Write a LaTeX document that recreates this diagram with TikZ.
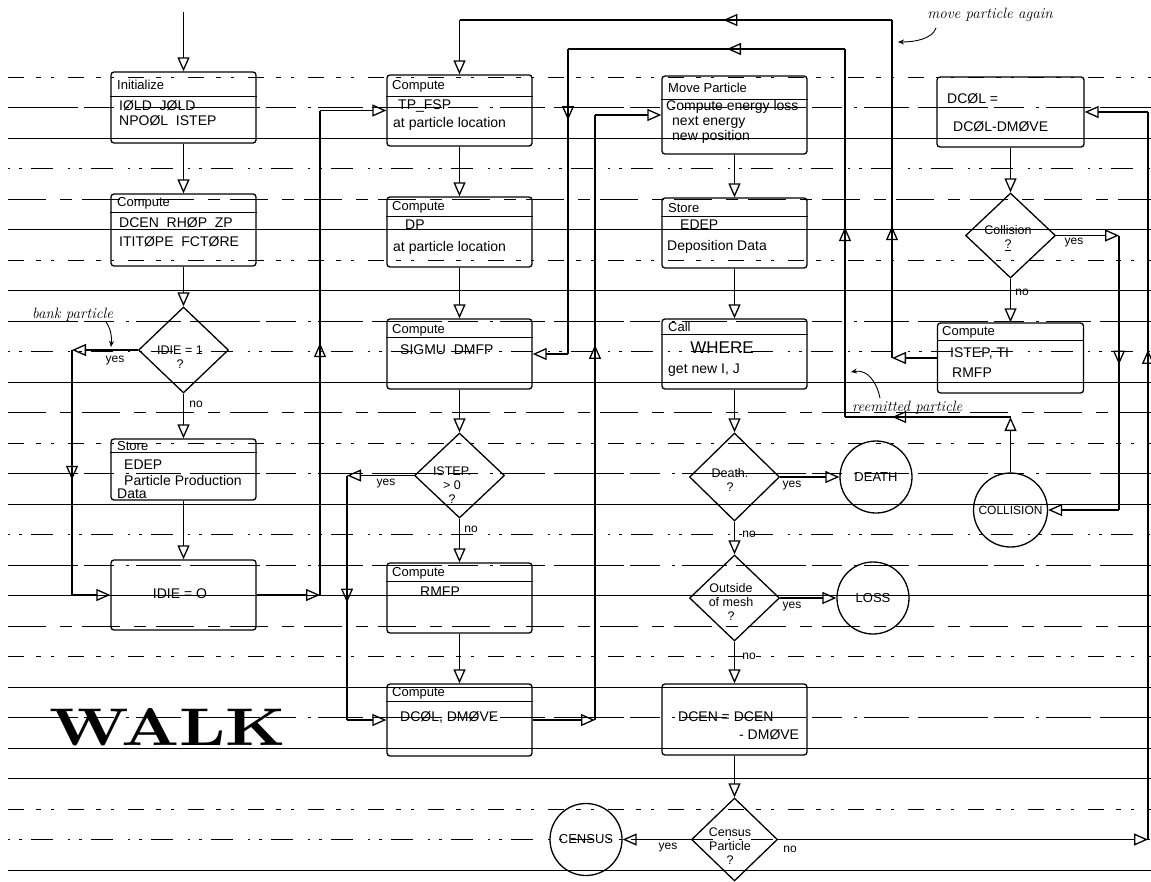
\documentclass[tikz,border=0pt]{standalone}
\usepackage{fontspec}
\usepackage{graphicx}
\usetikzlibrary{arrows.meta,shapes.geometric,decorations.markings}
\newfontfamily\hand{Liberation Sans}

% header divider inside a box, #2 pt below its top edge
\newcommand{\splitline}[2]{\draw[divline] ([yshift=-#2pt]#1.north west) -- ([yshift=-#2pt]#1.north east);}

\begin{document}
\begin{tikzpicture}[
  x=1pt, y=-1pt,
  >={Triangle[open,length=14pt,width=12pt]},
  flow/.style={line width=1.3pt},
  box/.style={draw, line width=1.3pt, rounded corners=3pt, inner sep=0pt, minimum width=145pt},
  dia/.style={draw, diamond, line width=1.3pt, inner sep=0pt, minimum width=90pt, minimum height=86pt},
  term/.style={draw, circle, line width=1.3pt, inner sep=0pt, minimum size=72pt, font=\hand\fontsize{13}{14}\selectfont},
  head/.style={anchor=west, inner sep=0pt, font=\hand\fontsize{13}{14}\selectfont},
  txt/.style={anchor=west, inner sep=0pt, font=\hand\fontsize{14}{15}\selectfont},
  dtxt/.style={align=center, inner sep=0pt, font=\hand\fontsize{12.5}{14}\selectfont},
  yn/.style={inner sep=0pt, font=\hand\fontsize{12}{13}\selectfont},
  note/.style={inner sep=0pt, font=\itshape\fontsize{15}{17}\selectfont},
  divline/.style={line width=1.1pt},
  rule/.style={line width=0.65pt},
  ra/.style={dash pattern=on 70pt off 6pt on 30pt off 12pt on 3pt off 7pt on 45pt off 9pt},
  rb/.style={dash pattern=on 16pt off 12pt on 5pt off 10pt on 3pt off 14pt},
  rc/.style={dash pattern=on 2pt off 9pt on 3pt off 9pt on 22pt off 15pt},
  rd/.style={dash pattern=on 38pt off 14pt on 12pt off 10pt},
  midtip/.style={postaction={decorate}, decoration={markings, mark=at position #1 with {\arrow{>}}}},
  pointer/.style={line width=0.9pt, -{Stealth[length=6pt,width=5pt]}},
]
\useasboundingbox (0,0) rectangle (1151,881);

% ruled sheet lines
\foreach \ry/\rs in {77/rb, 107.5/ra, 138/solid, 168.5/rc, 199/rd, 229.5/solid, 260/rb,
  290.5/solid, 321/ra, 351.5/rc, 382/solid, 412.5/rd, 443/rb, 473.5/ra, 504/solid,
  534.5/rc, 565/ra, 595.5/solid, 626/rd, 656.5/rb, 687/solid, 717.5/ra, 748/solid,
  778.5/solid, 809/rb, 839.5/rc, 870/solid}
  \draw[rule,\rs] (8,\ry) -- (1151,\ry);

% ---------------- left column ----------------
\coordinate (entry) at (183.5,12);
\node[box, minimum height=71pt] (init) at (183.5,107.5) {};
\splitline{init}{25}
\node[head] (initH) at (117,85) {Initialize};
\node[txt] (initA) at (119,106) {IØLD\ \ JØLD};
\node[txt] (initB) at (119,121) {NPOØL\ \ ISTEP};

\node[box, minimum height=72pt] (dcen) at (183.5,230) {};
\splitline{dcen}{19}
\node[head] (dcenH) at (117,203) {Compute};
\node[txt] (dcenA) at (119,224) {DCEN\_RHØP\_ZP};
\node[txt] (dcenB) at (119,242) {ITITØPE\ \ FCTØRE};

\node[dia] (dIdie) at (183.5,350) {};
\node[dtxt] (dIdieT) at (180,357) {IDIE = 1\\?};

\node[box, minimum height=61pt] (store1) at (183.5,469.5) {};
\splitline{store1}{14}
\node[head] (store1H) at (117,446) {Store};
\node[txt] (store1A) at (124,465) {EDEP};
\node[txt] (store1B) at (124,480) {Particle Production};
\node[txt] (store1C) at (117,494) {Data};

\node[box, minimum height=70pt] (idie0) at (183.5,595) {};
\node[txt, anchor=center] (idie0T) at (180,594) {IDIE = O};

% ---------------- second column ----------------
\node[box, minimum height=71pt] (tpfsp) at (459.5,110.5) {};
\splitline{tpfsp}{22}
\node[head] (tpfspH) at (392,86) {Compute};
\node[txt] (tpfspA) at (398,106) {TP\_FSP};
\node[txt] (tpfspB) at (393,124) {at particle location};

\node[box, minimum height=70pt] (dp) at (459.5,232) {};
\splitline{dp}{20}
\node[head] (dpH) at (392,207) {Compute};
\node[txt] (dpA) at (405,225) {DP};
\node[txt] (dpB) at (393,248) {at particle location};

\node[box, minimum height=70pt] (sigmu) at (459.5,354) {};
\splitline{sigmu}{19}
\node[head] (sigmuH) at (392,330) {Compute};
\node[txt] (sigmuA) at (400,350) {SIGMU\ \ DMFP};

\node[dia, minimum height=85pt] (dIstep) at (459.5,475.5) {};
\node[dtxt] (dIstepT) at (452,485) {ISTEP.\\{>} 0\\?};

\node[box, minimum height=70pt] (rmfp) at (459.5,598) {};
\splitline{rmfp}{19}
\node[head] (rmfpH) at (392,573) {Compute};
\node[txt] (rmfpA) at (420,592) {RMFP};

\node[box, minimum height=72pt] (dcol) at (459.5,720) {};
\splitline{dcol}{18}
\node[head] (dcolH) at (392,693) {Compute};
\node[txt] (dcolA) at (400,717) {DCØL, DMØVE};

\node[inner sep=0pt] (walk) at (168,727) {\resizebox{236pt}{37pt}{\bfseries WALK}};

% ---------------- third column ----------------
\node[box, minimum height=78pt] (move) at (734.5,115) {};
\splitline{move}{24}
\node[head] (moveH) at (668,88) {Move Particle};
\node[txt] (moveA) at (666,107) {Compute energy loss};
\node[txt] (moveB) at (672,122) {next energy};
\node[txt] (moveC) at (672,137) {new position};

\node[box, minimum height=70pt] (store2) at (734.5,233) {};
\splitline{store2}{19}
\node[head] (store2H) at (668,208) {Store};
\node[txt] (store2A) at (680,225) {EDEP};
\node[txt] (store2B) at (667,247) {Deposition Data};

\node[box, minimum height=70pt] (call) at (734.5,354) {};
\splitline{call}{16}
\node[head] (callH) at (668,327) {Call};
\node[txt, anchor=center, font=\hand\fontsize{17}{18}\selectfont] (callA) at (722,348) {WHERE};
\node[txt] (callB) at (668,370) {get new I, J};

\node[dia, minimum height=88pt] (dDeath) at (734.5,477) {};
\node[dtxt] (dDeathT) at (730,480) {Death.\\?};
\node[term] (death) at (876,477) {DEATH};

\node[dia] (dOut) at (734.5,598) {};
\node[dtxt] (dOutT) at (731,602) {Outside\\of mesh\\?};
\node[term] (loss) at (873,598) {LOSS};

\node[box, minimum height=71pt] (dcenbox) at (734.5,719.5) {};
\node[txt] (dcenboxA) at (678,717) {DCEN = DCEN};
\node[txt] (dcenboxB) at (739,735) {- DMØVE};

\node[dia, minimum width=86pt, minimum height=83pt] (dCensus) at (734.5,839.5) {};
\node[dtxt] (dCensusT) at (730,846) {Census\\Particle\\?};
\node[term] (census) at (586,839.5) {CENSUS};

% ---------------- right column ----------------
\node[box, minimum width=147pt, minimum height=70pt] (dcolbox) at (1010.5,112) {};
\node[txt] (dcolboxA) at (947,99) {DCØL =};
\node[txt] (dcolboxB) at (953,127) {DCØL-DMØVE};

\node[dia, minimum height=85pt] (dColl) at (1010.5,235.5) {};
\node[dtxt] (dCollT) at (1008,238) {Collision\\\underline{?}};

\node[box, minimum width=146pt, minimum height=70pt] (istep) at (1010.5,358) {};
\splitline{istep}{18}
\node[head] (istepH) at (942,332) {Compute};
\node[txt] (istepA) at (950,354) {ISTEP, TI};
\node[txt] (istepB) at (952,373) {RMFP};

\node[term, minimum size=74pt, font=\hand\fontsize{12}{13}\selectfont] (collision) at (1010.5,510) {COLLISION};

% ---------------- connectors ----------------
\draw[flow,->] (entry) -- (init);
\draw[flow,->] (init) -- (dcen);
\draw[flow,->] (dcen) -- (dIdie);
\draw[flow,->] (dIdie) -- (store1);
\draw[flow,->] (store1) -- (idie0);

\coordinate (bankTop) at (72,350);
\coordinate (bankBot) at (72,595);
\draw[flow,->] (dIdie.west) -- (bankTop);
\draw[flow,midtip=0.53] (bankTop) -- (bankBot);
\draw[flow,->] (bankBot) -- (idie0.west);

\coordinate (riseBot) at (320,595);
\coordinate (riseTop) at (320,110.5);
\draw[flow,->] (idie0.east) -- (riseBot);
\draw[flow,midtip=0.52] (riseBot) -- (riseTop);
\draw[flow,->] (riseTop) -- (tpfsp.west);

\draw[flow,->] (tpfsp) -- (dp);
\draw[flow,->] (dp) -- (sigmu);
\draw[flow,->] (sigmu) -- (dIstep);
\draw[flow,->] (dIstep) -- (rmfp);
\draw[flow,->] (rmfp) -- (dcol);

\coordinate (skipTop) at (347,475.5);
\coordinate (skipBot) at (347,720);
\draw[flow,->] (dIstep.west) -- (skipTop);
\draw[flow,midtip=0.52] (skipTop) -- (skipBot);
\draw[flow,->] (skipBot) -- (dcol.west);

\coordinate (moveBot) at (595,720);
\coordinate (moveTop) at (595,115);
\draw[flow,->] (dcol.east) -- (moveBot);
\draw[flow,midtip=0.62] (moveBot) -- (moveTop);
\draw[flow,->] (moveTop) -- (move.west);

\draw[flow,->] (move) -- (store2);
\draw[flow,->] (store2) -- (call);
\draw[flow,->] (call) -- (dDeath);
\draw[flow,->] (dDeath.east) -- (death);
\draw[flow,->] (dDeath) -- (dOut);
\draw[flow,->] (dOut.east) -- (loss);
\draw[flow,->] (dOut) -- (dcenbox);
\draw[flow,->] (dcenbox) -- (dCensus);
\draw[flow,->] (dCensus.west) -- (census);

\coordinate (backBot) at (1148,839.5);
\coordinate (backTop) at (1148,112);
\draw[flow,->] (dCensus.east) -- (backBot);
\draw[flow,midtip=0.673] (backBot) -- (backTop);
\draw[flow,->] (backTop) -- (dcolbox.east);

\draw[flow,->] (dcolbox) -- (dColl);
\coordinate (hitTop) at (1119,235.5);
\coordinate (hitBot) at (1119,510);
\draw[flow,->] (dColl.east) -- (hitTop);
\draw[flow,midtip=0.47] (hitTop) -- (hitBot);
\draw[flow,->] (hitBot) -- (collision.east);
\draw[flow,->] (dColl) -- (istep);

\coordinate (againLow) at (892,358);
\coordinate (againHigh) at (892,20);
\coordinate (againEnd) at (459.5,20);
\draw[flow,->] (istep.west) -- (againLow);
\draw[flow,midtip=0.39] (againLow) -- (againHigh);
\draw[flow,midtip=0.39] (againHigh) -- (againEnd);
\draw[flow,->] (againEnd) -- (tpfsp.north);

\coordinate (reA) at (1010.5,417);
\coordinate (reB) at (845,417);
\coordinate (reC) at (845,49);
\coordinate (reD) at (568,49);
\coordinate (reE) at (568,354);
\draw[flow,->] (collision.north) -- (reA);
\draw[flow,midtip=0.715] (reA) -- (reB);
\draw[flow,midtip=0.516] (reB) -- (reC);
\draw[flow,midtip=0.426] (reC) -- (reD);
\draw[flow,midtip=0.233] (reD) -- (reE);
\draw[flow,->] (reE) -- (sigmu.east);

% ---------------- branch labels ----------------
\node[yn] (yIdie) at (115,361) {yes};
\node[yn] (nIdie) at (196,404) {no};
\node[yn] (yIstep) at (386,484) {yes};
\node[yn] (nIstep) at (471,529) {no};
\node[yn] (yDeath) at (792,486) {yes};
\node[yn] (nDeath) at (749,534) {no};
\node[yn] (yOut) at (792,607) {yes};
\node[yn] (nOut) at (749,656) {no};
\node[yn] (yCensus) at (668,848) {yes};
\node[yn] (nCensus) at (790,849) {no};
\node[yn] (yColl) at (1074,243) {yes};
\node[yn] (nColl) at (1022,292) {no};

% ---------------- handwritten notes ----------------
\node[note, anchor=base west] (bankNote) at (32,318) {bank particle};
\coordinate (bankFrom) at (106,322);
\coordinate (bankTip) at (111,347);
\draw[pointer] (bankFrom) .. controls (111,329) and (112,337) .. (bankTip);

\node[note] (againNote) at (990,15) {move particle again};
\coordinate (againFrom) at (936,28);
\coordinate (againTip) at (898,42);
\draw[pointer] (againFrom) .. controls (932,39) and (915,42) .. (againTip);

\node[note, anchor=base west] (reNote) at (852,411) {reemitted particle};
\coordinate (reFrom) at (880,398);
\coordinate (reTip) at (851,372);
\draw[pointer] (reFrom) .. controls (877,383) and (868,369) .. (reTip);
\end{tikzpicture}
\end{document}
